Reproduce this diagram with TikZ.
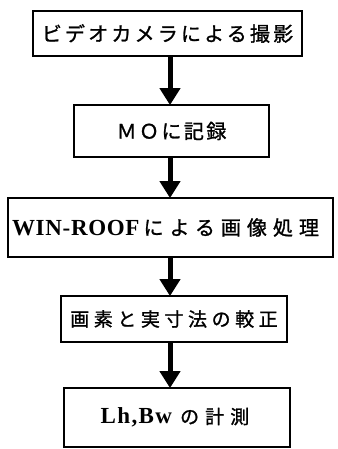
\documentclass[tikz,border=0pt]{standalone}
\usepackage{fontspec}
\usetikzlibrary{arrows.meta}
\newfontfamily\jp[AutoFakeBold=1.2]{Noto Sans CJK JP}
\newfontfamily\lat{Liberation Serif}
\tikzset{
  box/.style={draw, line width=1.8pt, inner sep=0pt, anchor=center},
  arr/.style={line width=5pt, -{Triangle[width=20pt,length=17pt]}, shorten >=-1pt},
}
\begin{document}
\begin{tikzpicture}[x=1pt,y=-1pt]
\useasboundingbox (0,0) rectangle (337,449);
\coordinate (ax) at (170,0);
\node[box, minimum width=269pt, minimum height=45pt] (b1) at (167.5,33.5)
  {\jp\bfseries\fontsize{20pt}{20pt}\selectfont\addfontfeature{LetterSpace=16}ビデオカメラによる撮影};
\node[box, minimum width=195pt, minimum height=52pt] (b2) at (171.5,131)
  {\jp\bfseries\fontsize{20pt}{20pt}\selectfont\addfontfeature{LetterSpace=12}ＭＯに記録};
\node[box, minimum width=325pt, minimum height=59pt] (b3) at (170.5,227.5)
  {\hspace*{-10pt}{\lat\bfseries\fontsize{23pt}{23pt}\selectfont\addfontfeature{LetterSpace=3}WIN-ROOF}\hspace{4pt}{\jp\bfseries\fontsize{20pt}{20pt}\selectfont\addfontfeature{LetterSpace=30}による画像処理}};
\node[box, minimum width=226pt, minimum height=46pt] (b4) at (174,319)
  {\jp\bfseries\fontsize{19pt}{19pt}\selectfont\addfontfeature{LetterSpace=24}画素と実寸法の較正};
\node[box, minimum width=226pt, minimum height=59pt] (b5) at (177,417.5)
  {\hspace*{-4pt}{\lat\bfseries\fontsize{23pt}{23pt}\selectfont\addfontfeature{LetterSpace=6}Lh,Bw}\hspace{8pt}{\jp\bfseries\fontsize{19pt}{19pt}\selectfont\addfontfeature{LetterSpace=32}の計測}};
\draw[arr] (b1.south -| ax) -- (b2.north -| ax);
\draw[arr] (b2.south -| ax) -- (b3.north -| ax);
\draw[arr] (b3.south -| ax) -- (b4.north -| ax);
\draw[arr] (b4.south -| ax) -- (b5.north -| ax);
\end{tikzpicture}
\end{document}
